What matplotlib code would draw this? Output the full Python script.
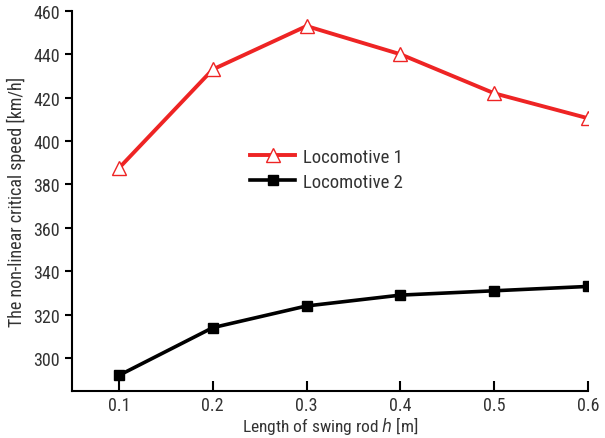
import matplotlib
matplotlib.use("Agg")
import matplotlib.pyplot as plt
from matplotlib import font_manager

# swing rod length [m]
rod_length = [0.1, 0.2, 0.3, 0.4, 0.5, 0.6]
# non-linear critical speed [km/h]
loco1 = [387.5, 433, 453, 440, 422, 410.5]
loco2 = [292, 314, 324, 329, 331, 333]

names = {f.name for f in font_manager.fontManager.ttflist}
family = ['DejaVu Sans']
for cand in ['Liberation Sans Narrow', 'Roboto Condensed', 'Open Sans Condensed',
             'DejaVu Sans Condensed']:
    if cand in names:
        family = [cand, 'DejaVu Sans']
        break
plt.rcParams['font.family'] = family
plt.rcParams['font.stretch'] = 'condensed'
text_col = '#333333'

fig = plt.figure(figsize=(6.05, 4.39), dpi=100)
ax = fig.add_axes([0.119, 0.108, 0.853, 0.865])

ax.plot(rod_length, loco1, color='#ee2424', lw=2.8, marker='^', ms=10,
        mfc='white', mec='#ee2424', mew=1.0, label='Locomotive 1')
ax.plot(rod_length, loco2, color='black', lw=2.6, marker='s', ms=7,
        label='Locomotive 2')

ax.set_xlim(0.05, 0.6)
ax.set_ylim(285, 460)
ax.set_xticks(rod_length)
ax.set_xticklabels(['0.1', '0.2', '0.3', '0.4', '0.5', '0.6'])
ax.set_yticks(range(300, 461, 20))

for s in ['top', 'right']:
    ax.spines[s].set_visible(False)
for s in ['left', 'bottom']:
    ax.spines[s].set_linewidth(1.5)

ax.tick_params(axis='x', direction='in', length=7, width=1.5,
               labelsize=13, labelcolor=text_col, pad=4)
ax.tick_params(axis='y', direction='out', length=5, width=1.5,
               labelsize=13, labelcolor=text_col)

ax.set_xlabel('Length of swing rod $\\it{h}$ [m]', fontsize=12.5,
              color=text_col, labelpad=0)
ax.set_ylabel('The non-linear critical speed [km/h]', fontsize=13,
              color=text_col, labelpad=5)

leg = ax.legend(loc='upper left', bbox_to_anchor=(0.345, 0.64), frameon=False,
                fontsize=13.5, handlelength=2.4, labelspacing=0.4,
                handletextpad=0.45, borderpad=0, borderaxespad=0)
for t in leg.get_texts():
    t.set_color(text_col)

fig.savefig('out.png', dpi=100)
